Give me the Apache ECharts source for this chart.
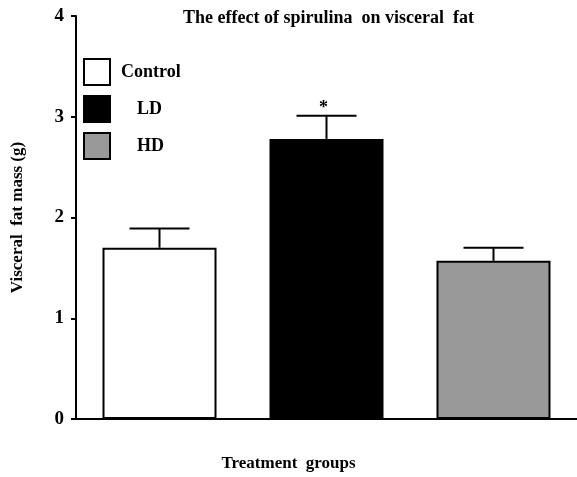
<!DOCTYPE html>
<html>
<head>
<meta charset="utf-8">
<script src="https://cdn.jsdelivr.net/npm/echarts@6/dist/echarts.min.js"></script>
<style>
  html, body { margin: 0; padding: 0; background: #fff; overflow: hidden; }
  #chart { width: 577px; height: 477px; }
</style>
</head>
<body>
<div id="chart"></div>
<script>
// visceral fat mass per group, mean + SEM
const groups = ['Control', 'LD', 'HD']
const means = [1.70, 2.78, 1.57]
const errors = [0.19, 0.23, 0.13]
const signif = ['', '*', '']
const fills = ['#ffffff', '#000000', '#999999']
const yTicks = [0, 1, 2, 3, 4]

const FONT = '"Liberation Serif", "DejaVu Serif", serif'

const chart = echarts.init(document.getElementById('chart'))

// one series per group so the legend gets one entry each; barGap -100% puts them on top of each other
const barSeries = groups.map((g, i) => ({
  name: g,
  type: 'bar',
  barWidth: 114,
  barGap: '-100%',
  data: groups.map((_, j) => (j === i ? means[i] : '-')),
  itemStyle: { color: fills[i], borderColor: '#000', borderWidth: 2 },
  emphasis: { disabled: true },
  z: 2
}))

const errorSeries = {
  type: 'custom',
  data: groups.map((_, i) => [i, means[i], errors[i]]),
  z: 3,
  renderItem(params, api) {
    const i = api.value(0)
    const base = api.coord([i, api.value(1)])
    const top = api.coord([i, api.value(1) + api.value(2)])
    const half = 30
    const style = { stroke: '#000', lineWidth: 2 }
    const children = [
      { type: 'line', shape: { x1: base[0], y1: base[1], x2: top[0], y2: top[1] }, style },
      { type: 'line', shape: { x1: top[0] - half, y1: top[1], x2: top[0] + half, y2: top[1] }, style }
    ]
    if (signif[i]) {
      children.push({
        type: 'text',
        style: {
          text: signif[i], x: top[0] - 3, y: top[1] + 2,
          align: 'center', verticalAlign: 'bottom',
          font: 'bold 18px ' + FONT, fill: '#000'
        }
      })
    }
    return { type: 'group', children }
  }
}

chart.setOption({
  animation: false,
  title: {
    text: 'The effect of spirulina  on visceral  fat',
    left: 178,
    top: 4,
    textStyle: { fontFamily: FONT, fontSize: 18, fontWeight: 'bold', color: '#000' }
  },
  legend: {
    orient: 'vertical',
    left: 78,
    top: 53,
    itemWidth: 26,
    itemHeight: 26,
    itemGap: 9,
    icon: 'rect',
    selectedMode: false,
    textStyle: { fontFamily: FONT, fontSize: 18, fontWeight: 'bold', color: '#000' },
    data: groups.map((g, i) => ({
      name: g,
      itemStyle: { color: fills[i], borderColor: '#000', borderWidth: 2 },
      textStyle: { padding: [0, 0, 0, i === 0 ? 6 : 22] }
    }))
  },
  grid: { left: 76, top: 16, width: 513, bottom: 48.5 },
  xAxis: {
    type: 'category',
    data: groups,
    name: 'Treatment  groups',
    nameLocation: 'middle',
    nameGap: 36,
    nameTextStyle: { fontFamily: FONT, fontSize: 17, fontWeight: 'bold', color: '#000', padding: [0, 76, 0, 0] },
    axisLine: { lineStyle: { color: '#000', width: 2 } },
    axisTick: { alignWithLabel: true, length: 6, lineStyle: { color: '#000', width: 2 } },
    axisLabel: { show: false }
  },
  yAxis: {
    type: 'value',
    min: yTicks[0],
    max: yTicks[yTicks.length - 1],
    interval: 1,
    name: 'Visceral  fat mass (g)',
    nameLocation: 'middle',
    nameGap: 50,
    nameTextStyle: { fontFamily: FONT, fontSize: 17, fontWeight: 'bold', color: '#000' },
    axisLine: { show: true, lineStyle: { color: '#000', width: 2 } },
    axisTick: { show: true, length: 5, lineStyle: { color: '#000', width: 2 } },
    axisLabel: { fontFamily: FONT, fontSize: 19, fontWeight: 'bold', color: '#000', margin: 12 },
    splitLine: { show: false }
  },
  series: [...barSeries, errorSeries]
})
</script>
</body>
</html>
